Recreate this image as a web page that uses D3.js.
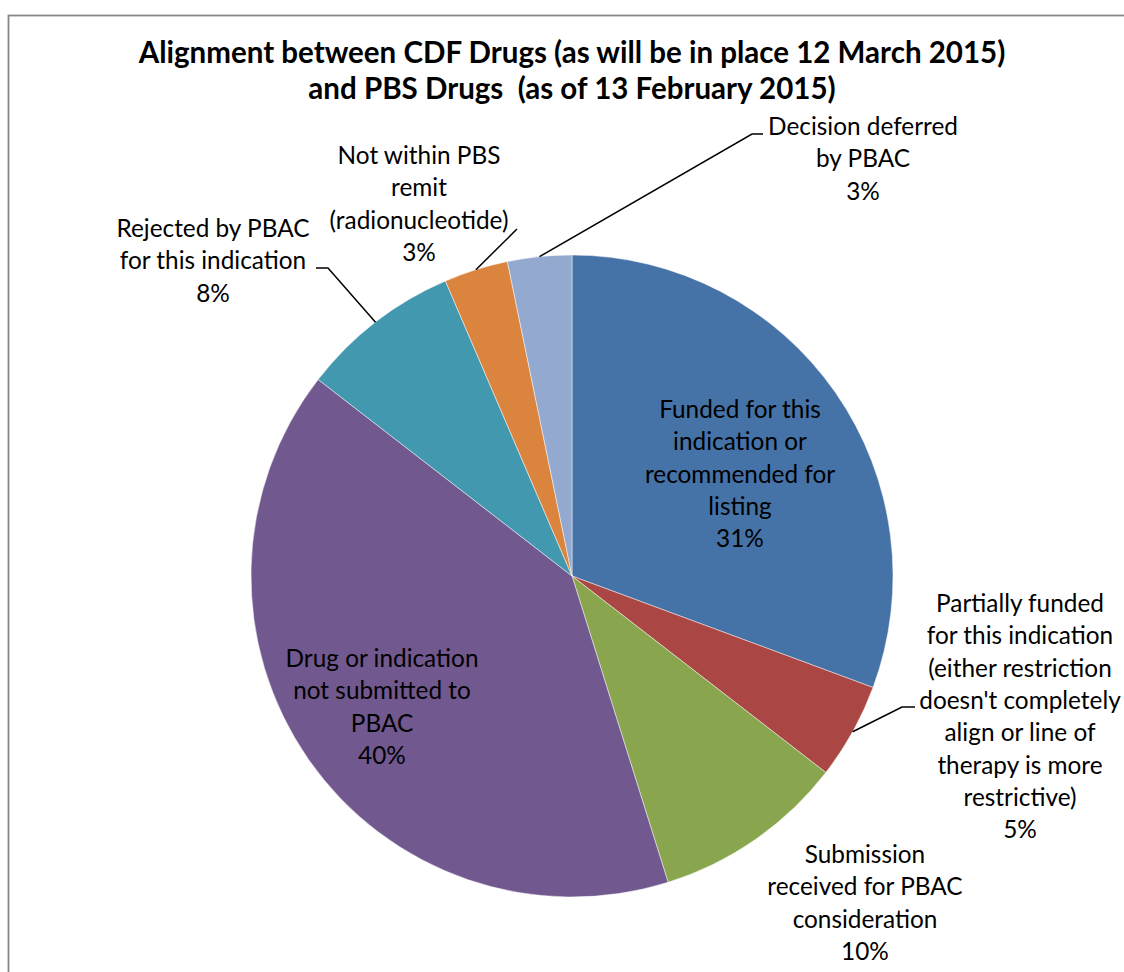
<!DOCTYPE html>
<html>
<head>
<meta charset="utf-8">
<script src="https://cdn.jsdelivr.net/npm/d3@7"></script>
<style>
  html, body { margin: 0; padding: 0; background: #fff; }
  svg { display: block; }
  text { font-family: Lato, "Open Sans", sans-serif; fill: #000; }
</style>
</head>
<body>
<svg id="chart" width="1124" height="972"></svg>
<script>
// ---- data ----
const titleLines = ["Alignment between CDF Drugs (as will be in place 12 March 2015)",
                    "and PBS Drugs  (as of 13 February 2015)"];
const categories = [
  ["Funded for this", "indication or", "recommended for", "listing"],
  ["Partially funded", "for this indication", "(either restriction", "doesn't completely", "align or line of", "therapy is more", "restrictive)"],
  ["Submission", "received for PBAC", "consideration"],
  ["Drug or indication", "not submitted to", "PBAC"],
  ["Rejected by PBAC", "for this indication"],
  ["Not within PBS", "remit", "(radionucleotide)"],
  ["Decision deferred", "by PBAC"]
];
const counts = [19, 3, 6, 25, 5, 2, 2];
const colors = ["#4572A7", "#AA4643", "#89A54E", "#71588F", "#4198AF", "#DB843D", "#93A9CF"];

// ---- layout (positions of label blocks, not data) ----
const cx = 572, cy = 576, R = 321;
const labelLayout = [
  { x: 740, y: 418, leader: null },
  { x: 1020, y: 612, leader: [[902, 707], [915, 707]] },
  { x: 865, y: 863, leader: null },
  { x: 382, y: 667, leader: null },
  { x: 213, y: 237, leader: [[328, 268], [316, 268]] },
  { x: 419, y: 164, leader: [[517, 229]] },
  { x: 863, y: 135, leader: [[752, 134], [763, 134]] }
];
const lineH = 32.3;

const svg = d3.select("#chart");

// border
svg.append("rect").attr("x", 8.5).attr("y", 15.5).attr("width", 1200).attr("height", 1000)
  .attr("fill", "#fff").attr("stroke", "#878787").attr("stroke-width", 1.8);

// title, fitted to the reference width
const tg = svg.append("g");
const t1 = tg.append("text").attr("x", 572).attr("y", 63).attr("text-anchor", "middle")
  .style("font-weight", "bold").style("font-size", "24px").text(titleLines[0]);
const w1 = t1.node().getComputedTextLength();
const titleSize = 24 * 867 / w1;
t1.style("font-size", titleSize + "px");
tg.append("text").attr("x", 572).attr("y", 99).attr("text-anchor", "middle")
  .attr("xml:space", "preserve").style("white-space", "pre")
  .style("font-weight", "bold").style("font-size", titleSize + "px").text(titleLines[1]);

// pie
const total = d3.sum(counts);
const pie = d3.pie().sort(null).value(d => d).startAngle(0).endAngle(2 * Math.PI);
const arcs = pie(counts);
const arc = d3.arc().innerRadius(0).outerRadius(R);
const g = svg.append("g").attr("transform", `translate(${cx},${cy})`);
g.selectAll("path").data(arcs).join("path")
  .attr("d", arc)
  .attr("fill", (d, i) => colors[i])
  .attr("stroke", "#ffffff").attr("stroke-opacity", 0.6).attr("stroke-width", 0.8);

// label font size fitted
const probe = svg.append("text").style("font-size", "20px").text("Drug or indication");
const labelSize = 20 * 193 / probe.node().getComputedTextLength();
probe.remove();

const fmt = d3.format(".0%");
const edgeArc = d3.arc().innerRadius(R).outerRadius(R);

arcs.forEach((a, i) => {
  const L = labelLayout[i];
  const lines = categories[i].concat([fmt(a.value / total)]);
  const t = svg.append("text").attr("text-anchor", "middle").style("font-size", labelSize + "px");
  lines.forEach((s, k) => {
    t.append("tspan").attr("x", L.x).attr("y", L.y + k * lineH).text(s);
  });
  if (L.leader) {
    const c = edgeArc.centroid(a);
    const pts = [[cx + c[0], cy + c[1]]].concat(L.leader);
    svg.append("path").attr("d", d3.line()(pts))
      .attr("fill", "none").attr("stroke", "#000").attr("stroke-width", 1.5);
  }
});
</script>
</body>
</html>
